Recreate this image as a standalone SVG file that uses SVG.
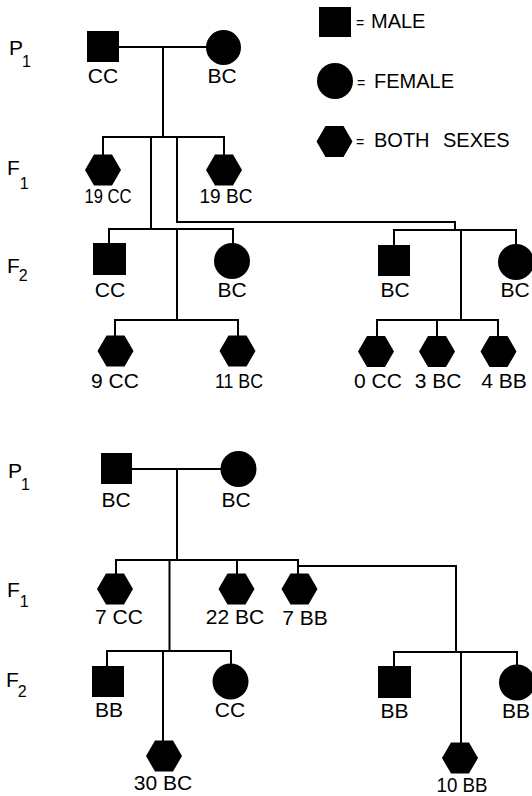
<svg xmlns="http://www.w3.org/2000/svg" width="532" height="796" viewBox="0 0 532 796">
  <defs>
    <style>
      .line { fill: none; stroke: #000; stroke-width: 2; stroke-linecap: square; }
      .sym { fill: #000; }
      text { font-family: "Liberation Sans", Arial, sans-serif; fill: #000; }
      .lbl { font-size: 21px; text-anchor: middle; }
      .gen { font-size: 21px; }
      .sub { font-size: 16px; }
      .key { font-size: 20px; }
      .eq { font-size: 14px; }
    </style>
    <path id="hex" d="M-18,0 L-9,-15.6 L9,-15.6 L18,0 L9,15.6 L-9,15.6 Z"/>
  </defs>
  <rect width="532" height="796" fill="#fff"/>

  <!-- key -->
  <g id="key">
    <rect class="sym" x="319" y="7" width="32" height="30"/>
    <text class="key" x="356" y="28"><tspan class="eq">=</tspan><tspan x="371">MALE</tspan></text>
    <circle class="sym" cx="335" cy="81" r="18"/>
    <text class="key" x="357" y="88"><tspan class="eq">=</tspan><tspan x="374">FEMALE</tspan></text>
    <use class="sym" href="#hex" x="334.5" y="141.5"/>
    <text class="key" x="356" y="147"><tspan class="eq">=</tspan><tspan x="374">BOTH</tspan><tspan x="443">SEXES</tspan></text>
  </g>

  <!-- generation labels -->
  <g id="generations">
    <text class="gen" x="9" y="55">P<tspan class="sub" dx="-1" dy="12">1</tspan></text>
    <text class="gen" x="7" y="175">F<tspan class="sub" dx="0" dy="14">1</tspan></text>
    <text class="gen" x="7" y="273">F<tspan class="sub" dx="-1" dy="8">2</tspan></text>
    <text class="gen" x="8" y="478">P<tspan class="sub" dx="-1" dy="12">1</tspan></text>
    <text class="gen" x="7" y="597">F<tspan class="sub" dx="0" dy="10">1</tspan></text>
    <text class="gen" x="6" y="687">F<tspan class="sub" dx="-1" dy="10">2</tspan></text>
  </g>

  <!-- connectors -->
  <g id="connectors">
    <!-- first cross -->
    <path class="line" d="M119,47 H206 M163,47 V137"/>
    <path class="line" d="M103,137 H224 M103,137 V154 M224,137 V154"/>
    <path class="line" d="M151,137 V229 M177,137 V222 H455 V230"/>
    <path class="line" d="M109,229 H233 M109,229 V243 M233,229 V243 M177,229 V320"/>
    <path class="line" d="M115,320 H238 M115,320 V335 M238,320 V335"/>
    <path class="line" d="M394,230 H516 M394,230 V245 M516,230 V244 M461,230 V320"/>
    <path class="line" d="M377,320 H498 M377,320 V336 M437,320 V336 M498,320 V336"/>
    <!-- second cross -->
    <path class="line" d="M132,469 H221 M177,469 V560"/>
    <path class="line" d="M116,560 H298 M116,560 V573 M237,560 V573 M298,560 V573"/>
    <path class="line" d="M169.5,560 V651 M298,566 H456 V652"/>
    <path class="line" d="M107,651 H231 M107,651 V666 M231,651 V664 M163,651 V740"/>
    <path class="line" d="M394,652 H517 M394,652 V666 M517,652 V665 M461,652 V742"/>
  </g>

  <!-- first cross: parents -->
  <g id="p1a-male"><rect class="sym" x="87" y="31" width="32" height="31"/><text class="lbl" x="103" y="83">CC</text></g>
  <g id="p1a-female"><circle class="sym" cx="223.5" cy="47.5" r="17.5"/><text class="lbl" x="222" y="83">BC</text></g>
  <!-- first cross: F1 -->
  <g id="f1a-cc"><use class="sym" href="#hex" x="103" y="170"/><text class="lbl" x="108" y="203" textLength="47" lengthAdjust="spacingAndGlyphs">19 CC</text></g>
  <g id="f1a-bc"><use class="sym" href="#hex" x="224" y="170"/><text class="lbl" x="226" y="203" textLength="53" lengthAdjust="spacingAndGlyphs">19 BC</text></g>
  <!-- first cross: F2, CC x BC -->
  <g id="f2a-male"><rect class="sym" x="93" y="243" width="33" height="32"/><text class="lbl" x="110" y="297">CC</text></g>
  <g id="f2a-female"><circle class="sym" cx="232" cy="261" r="18"/><text class="lbl" x="232" y="297">BC</text></g>
  <g id="f2a-cc"><use class="sym" href="#hex" x="115.5" y="351"/><text class="lbl" x="115" y="388">9 CC</text></g>
  <g id="f2a-bc"><use class="sym" href="#hex" x="237.5" y="351"/><text class="lbl" x="239" y="388" textLength="48" lengthAdjust="spacingAndGlyphs">11 BC</text></g>
  <!-- first cross: F2, BC x BC -->
  <g id="f2b-male"><rect class="sym" x="378" y="245" width="32" height="31"/><text class="lbl" x="395" y="297">BC</text></g>
  <g id="f2b-female"><circle class="sym" cx="516" cy="262" r="18"/><text class="lbl" x="515" y="297">BC</text></g>
  <g id="f2b-cc"><use class="sym" href="#hex" x="376" y="351.5"/><text class="lbl" x="378" y="388">0 CC</text></g>
  <g id="f2b-bc"><use class="sym" href="#hex" x="437" y="351.5"/><text class="lbl" x="438" y="388">3 BC</text></g>
  <g id="f2b-bb"><use class="sym" href="#hex" x="498.5" y="351.5"/><text class="lbl" x="504" y="388">4 BB</text></g>

  <!-- second cross: parents -->
  <g id="p1b-male"><rect class="sym" x="101" y="453" width="31" height="31"/><text class="lbl" x="116" y="507">BC</text></g>
  <g id="p1b-female"><circle class="sym" cx="238.5" cy="469" r="18"/><text class="lbl" x="236" y="507">BC</text></g>
  <!-- second cross: F1 -->
  <g id="f1b-cc"><use class="sym" href="#hex" x="115" y="589"/><text class="lbl" x="119" y="624">7 CC</text></g>
  <g id="f1b-bc"><use class="sym" href="#hex" x="236.5" y="589"/><text class="lbl" x="235" y="624">22 BC</text></g>
  <g id="f1b-bb"><use class="sym" href="#hex" x="299.5" y="589"/><text class="lbl" x="305" y="625">7 BB</text></g>
  <!-- second cross: F2, BB x CC -->
  <g id="f2c-male"><rect class="sym" x="92" y="666" width="32" height="31"/><text class="lbl" x="109" y="717">BB</text></g>
  <g id="f2c-female"><circle class="sym" cx="230.5" cy="681.5" r="18"/><text class="lbl" x="230" y="717">CC</text></g>
  <g id="f2c-bc"><use class="sym" href="#hex" x="164" y="756"/><text class="lbl" x="163" y="790">30 BC</text></g>
  <!-- second cross: F2, BB x BB -->
  <g id="f2d-male"><rect class="sym" x="378" y="666" width="33" height="32"/><text class="lbl" x="394.5" y="718">BB</text></g>
  <g id="f2d-female"><circle class="sym" cx="517" cy="682.5" r="18"/><text class="lbl" x="516" y="718">BB</text></g>
  <g id="f2d-bb"><use class="sym" href="#hex" x="460" y="758"/><text class="lbl" x="462" y="792" textLength="51" lengthAdjust="spacingAndGlyphs">10 BB</text></g>
</svg>
